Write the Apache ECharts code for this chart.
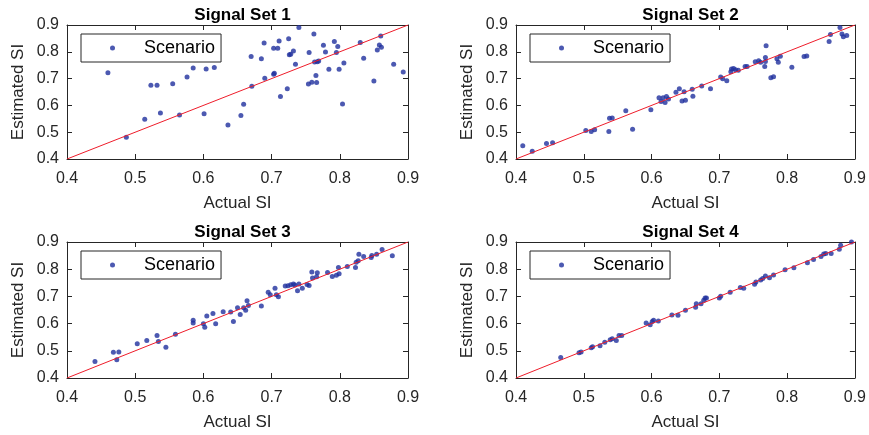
<!DOCTYPE html>
<html>
<head>
<meta charset="utf-8">
<script src="https://cdn.jsdelivr.net/npm/echarts@6/dist/echarts.min.js"></script>
<style>html,body{margin:0;padding:0;background:#fff}#c{width:869px;height:435px}</style>
</head>
<body>
<div id="c"></div>
<script>
const titles = ['Signal Set 1', 'Signal Set 2', 'Signal Set 3', 'Signal Set 4'];
const tickValues = [0.4, 0.5, 0.6, 0.7, 0.8, 0.9];
const legendName = 'Scenario';

const actual1 = [0.460,0.487,0.514,0.523,0.532,0.537,0.555,0.565,0.576,0.585,0.601,0.604,0.616,0.636,0.655,0.659,0.670,0.671,0.685,0.689,0.690,0.703,0.703,0.704,0.709,0.711,0.713,0.723,0.725,0.726,0.728,0.732,0.735,0.740,0.754,0.755,0.759,0.762,0.763,0.765,0.766,0.767,0.769,0.776,0.779,0.784,0.792,0.795,0.797,0.799,0.804,0.806,0.830,0.835,0.850,0.855,0.858,0.860,0.861,0.879,0.893];
const estimated1 = [0.722,0.481,0.548,0.675,0.675,0.572,0.681,0.564,0.706,0.740,0.569,0.736,0.741,0.527,0.562,0.604,0.782,0.671,0.774,0.833,0.701,0.813,0.716,0.720,0.813,0.840,0.633,0.662,0.849,0.789,0.791,0.803,0.754,0.891,0.680,0.797,0.686,0.866,0.762,0.712,0.685,0.763,0.766,0.824,0.799,0.735,0.838,0.797,0.820,0.735,0.605,0.758,0.835,0.776,0.691,0.807,0.825,0.859,0.817,0.754,0.725];

const actual2 = [0.410,0.424,0.445,0.454,0.503,0.511,0.516,0.537,0.538,0.542,0.562,0.572,0.599,0.611,0.614,0.617,0.620,0.622,0.625,0.636,0.641,0.645,0.648,0.650,0.660,0.661,0.674,0.687,0.702,0.705,0.711,0.717,0.718,0.721,0.724,0.728,0.738,0.741,0.753,0.758,0.761,0.768,0.768,0.767,0.769,0.776,0.780,0.785,0.787,0.790,0.807,0.825,0.829,0.862,0.864,0.878,0.881,0.883,0.888];
const estimated2 = [0.449,0.429,0.458,0.461,0.506,0.503,0.509,0.503,0.552,0.553,0.580,0.511,0.584,0.629,0.615,0.629,0.611,0.633,0.624,0.649,0.662,0.616,0.651,0.619,0.660,0.634,0.672,0.662,0.706,0.699,0.692,0.726,0.736,0.738,0.733,0.731,0.745,0.745,0.763,0.767,0.761,0.779,0.764,0.745,0.823,0.703,0.707,0.774,0.761,0.783,0.742,0.782,0.784,0.838,0.865,0.891,0.866,0.856,0.861];

const actual3 = [0.441,0.468,0.473,0.476,0.503,0.517,0.532,0.534,0.545,0.559,0.585,0.585,0.600,0.602,0.605,0.614,0.618,0.629,0.640,0.644,0.650,0.654,0.659,0.662,0.664,0.666,0.685,0.695,0.698,0.705,0.707,0.710,0.720,0.724,0.728,0.732,0.734,0.738,0.740,0.745,0.752,0.755,0.759,0.760,0.766,0.767,0.782,0.789,0.795,0.798,0.799,0.811,0.823,0.824,0.827,0.828,0.835,0.846,0.847,0.854,0.862,0.877];
const estimated3 = [0.461,0.495,0.467,0.496,0.526,0.538,0.556,0.534,0.513,0.561,0.612,0.602,0.599,0.587,0.628,0.637,0.599,0.644,0.643,0.608,0.658,0.633,0.658,0.649,0.684,0.667,0.665,0.715,0.706,0.730,0.706,0.699,0.738,0.739,0.743,0.746,0.742,0.721,0.746,0.730,0.744,0.740,0.790,0.768,0.772,0.787,0.788,0.773,0.778,0.806,0.783,0.810,0.806,0.826,0.831,0.855,0.847,0.843,0.850,0.855,0.872,0.849];

const actual4 = [0.466,0.493,0.496,0.511,0.513,0.524,0.531,0.539,0.542,0.548,0.552,0.556,0.592,0.598,0.601,0.603,0.610,0.630,0.639,0.650,0.665,0.666,0.673,0.677,0.679,0.681,0.700,0.702,0.716,0.731,0.736,0.752,0.754,0.761,0.764,0.768,0.774,0.780,0.797,0.810,0.830,0.839,0.850,0.854,0.857,0.865,0.877,0.879,0.895];
const estimated4 = [0.475,0.493,0.496,0.511,0.515,0.519,0.531,0.541,0.544,0.538,0.556,0.556,0.602,0.596,0.608,0.612,0.610,0.632,0.631,0.649,0.660,0.673,0.673,0.686,0.694,0.694,0.694,0.701,0.715,0.733,0.730,0.745,0.753,0.760,0.766,0.775,0.769,0.779,0.798,0.805,0.824,0.836,0.847,0.856,0.858,0.858,0.873,0.888,0.900];

const refLineX = [0.4, 0.9];
const refLineY = [0.4, 0.9];

const actuals = [actual1, actual2, actual3, actual4];
const estimates = [estimated1, estimated2, estimated3, estimated4];

const FONT = '"Liberation Sans", Arial, sans-serif';
const AX = '#262626';
const grids = [
  {left: 67, top: 25, width: 341, height: 134},
  {left: 516, top: 25, width: 339, height: 134},
  {left: 67, top: 242, width: 341, height: 136},
  {left: 516, top: 242, width: 339, height: 136}
];

const option = {
  backgroundColor: '#fff',
  animation: false,
  title: [], grid: [], xAxis: [], yAxis: [], legend: [], series: []
};

grids.forEach((g, i) => {
  option.grid.push(Object.assign({}, g));
  option.title.push({
    text: titles[i],
    left: g.left + g.width / 2, textAlign: 'center',
    top: g.top - 25,
    textStyle: {fontFamily: FONT, fontWeight: 'bold', fontSize: 17, lineHeight: 20, color: '#000'}
  });
  const common = {
    type: 'value', gridIndex: i, min: tickValues[0], max: tickValues[tickValues.length - 1], interval: 0.1,
    splitLine: {show: false},
    axisLine: {show: true, lineStyle: {color: AX, width: 1}},
    axisTick: {show: true, inside: true, length: 5, lineStyle: {color: AX}}
  };
  option.xAxis.push(Object.assign({}, common, {
    position: 'bottom',
    name: 'Actual SI', nameLocation: 'middle', nameGap: 36,
    nameTextStyle: {fontFamily: FONT, fontSize: 17, color: '#262626'},
    axisLabel: {fontFamily: FONT, fontSize: 16, color: '#262626', margin: 12, formatter: v => v.toFixed(1)}
  }));
  option.xAxis.push(Object.assign({}, common, {position: 'top', axisLabel: {show: false}}));
  option.yAxis.push(Object.assign({}, common, {
    position: 'left',
    name: 'Estimated SI', nameLocation: 'middle', nameGap: 40,
    nameTextStyle: {fontFamily: FONT, fontSize: 17, color: '#262626'},
    axisLabel: {fontFamily: FONT, fontSize: 16, color: '#262626', margin: 8, formatter: v => v.toFixed(1)}
  }));
  option.yAxis.push(Object.assign({}, common, {position: 'right', axisLabel: {show: false}}));

  option.legend.push({
    data: [legendName], left: g.left + 14, top: g.top + 9,
    selectedMode: false, orient: 'vertical',
    icon: 'circle', itemWidth: 5, itemHeight: 5, itemGap: 5,
    padding: [5, 6, 5, 29],
    borderColor: AX, borderWidth: 1, backgroundColor: '#fff',
    textStyle: {fontFamily: FONT, fontSize: 18, color: '#000', lineHeight: 18, padding: [0, 0, 0, 24]}
  });

  option.series.push({
    name: legendName, type: 'scatter',
    xAxisIndex: i * 2, yAxisIndex: i * 2,
    symbol: 'circle', symbolSize: 5,
    itemStyle: {color: '#1f2f9e'},
    data: actuals[i].map((x, k) => [x, estimates[i][k]])
  });
  option.series.push({
    name: 'fit', type: 'line',
    xAxisIndex: i * 2, yAxisIndex: i * 2,
    showSymbol: false, symbol: 'none',
    lineStyle: {color: '#ee1c2a', width: 1},
    data: refLineX.map((x, k) => [x, refLineY[k]])
  });
});

const chart = echarts.init(document.getElementById('c'), null, {renderer: 'canvas'});
chart.setOption(option);
</script>
</body>
</html>
